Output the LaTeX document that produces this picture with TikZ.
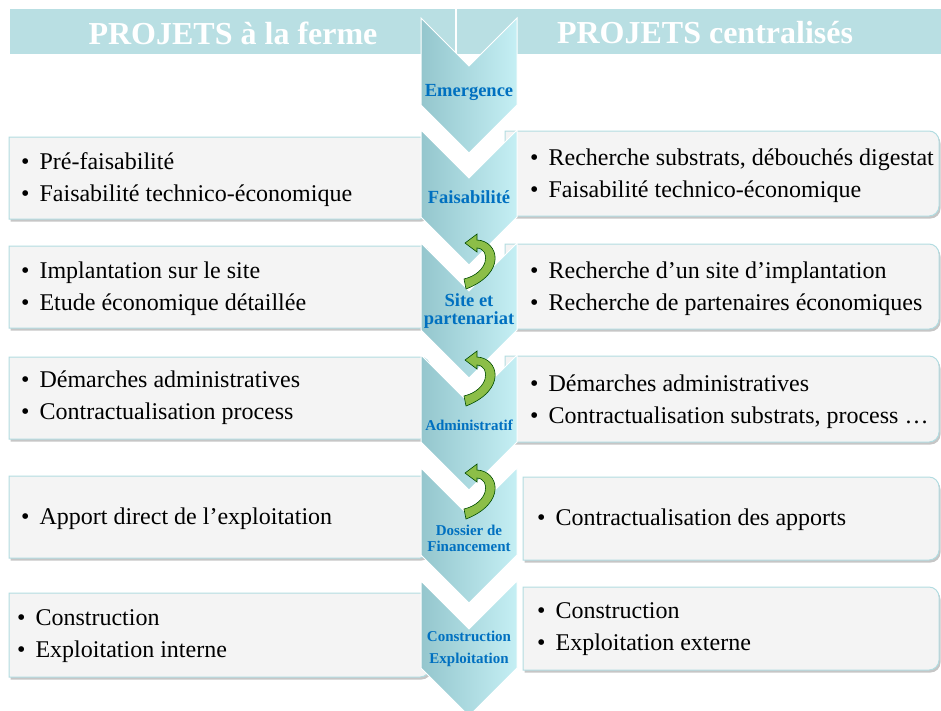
\documentclass[tikz,border=0pt]{standalone}
\usepackage{fontspec}
\setmainfont{Liberation Serif}
\usetikzlibrary{calc}
\usetikzlibrary{shadows}
\definecolor{bandteal}{RGB}{185,223,227}
\definecolor{chevdark}{RGB}{148,198,205}
\definecolor{chevlight}{RGB}{197,239,244}
\definecolor{labelblue}{RGB}{0,112,192}
\definecolor{boxgray}{RGB}{244,244,244}
\definecolor{boxline}{RGB}{178,220,225}
\definecolor{loopgreen}{RGB}{140,190,72}
\newcommand{\itm}[1]{\textbullet\hspace{10pt}#1}
\tikzset{
	header/.style={
		fill=bandteal,
	},
	headtext/.style={
		text=white,
		font=\bfseries\fontsize{32}{35}\selectfont
	},
	box/.style={
		fill=boxgray,
		draw=boxline,
		line width=1pt,
		drop shadow={shadow xshift=1.5pt, shadow yshift=-2.5pt, opacity=0.45}
	},
	bullets/.style={
		align=left,
		anchor=west,
		inner sep=0pt,
		font=\fontsize{24}{32}\selectfont
	},
	chevron/.style={
		left color=chevdark,
		right color=chevlight,
		draw=white,
		line width=1pt
	},
	stage/.style={
		text=labelblue,
		align=center,
		inner sep=0pt,
		font=\bfseries\fontsize{18.5}{18}\selectfont
	},
	smallstage/.style={
		stage,
		font=\bfseries\fontsize{15}{16}\selectfont
	},
	loopback/.style={
		fill=loopgreen,
		draw=black!70!green,
		line width=0.6pt
	},
}

\begin{document}
\begin{tikzpicture}[x=1pt, y=-1pt]
		\useasboundingbox (0,0) rectangle (941,710);

		% en-tete
		\path[header] 			(10,9) rectangle (941,54);
		\draw[white, line width=1.5pt] 	(456,9) -- (456,54);
		\node[headtext] 		(ferme) at (233,33) {PROJETS à la ferme};
		\node[headtext] 		(centr) at (705,33) {PROJETS centralisés};

%*********

		\foreach \t/\b in {137/219, 246/328, 357/439, 476/558, 593/677}
			\path[box] (9,\b) -- (9,\t) [rounded corners=10pt] -- (430,\t) -- (430,\b) [sharp corners] -- cycle;

		\foreach \t/\b/\l in {131/216/505, 244/329/505, 356/442/505, 477/560/523, 587/670/523}
			\path[box] (\l,\b) -- (\l,\t) [rounded corners=10pt] -- (939,\t) -- (939,\b) [sharp corners] -- cycle;

		\node[bullets] 	(l1) at (21,180) {\itm{Pré-faisabilité}\\\itm{Faisabilité technico-économique}};
		\node[bullets] 	(l2) at (21,289) {\itm{Implantation sur le site}\\\itm{Etude économique détaillée}};
		\node[bullets] 	(l3) at (21,398) {\itm{Démarches administratives}\\\itm{Contractualisation process}};
		\node[bullets] 	(l4) at (21,519) {\itm{Apport direct de l’exploitation}};
		\node[bullets] 	(l5) at (17,636) {\itm{Construction}\\\itm{Exploitation interne}};

		\node[bullets] 	(r1) at (530,176) {\itm{Recherche substrats, débouchés digestat}\\\itm{Faisabilité technico-économique}};
		\node[bullets] 	(r2) at (530,289) {\itm{Recherche d’un site d’implantation}\\\itm{Recherche de partenaires économiques}};
		\node[bullets] 	(r3) at (530,402) {\itm{Démarches administratives}\\\itm{Contractualisation substrats, process …}};
		\node[bullets] 	(r4) at (537,520) {\itm{Contractualisation des apports}};
		\node[bullets] 	(r5) at (537,629) {\itm{Construction}\\\itm{Exploitation externe}};

%*********

		\foreach \t in {18, 130, 243, 355, 468, 581}
			\path[chevron] (421,\t) -- (469,\t+48) -- (517,\t) -- (517,\t+87) -- (469,\t+135) -- (421,\t+87) -- cycle;

		\node[stage] 			(emer) at (469,92) {Emergence};
		\node[stage] 			(fais) at (469,197) {Faisabilité};
		\node[stage] 			(site) at (469,311) {Site et\\partenariat};
		\node[smallstage] 		(admin) at (469,425) {Administratif};
		\node[smallstage] 		(doss) at (469,538) {Dossier de\\Financement};
		\node[smallstage, font=\bfseries\fontsize{15}{22}\selectfont] 	(constr) at (469,649) {Construction\\Exploitation};

%*********

		\foreach \t in {243, 360, 473}{
			\begin{scope}[shift={(465,\t)}]
				\path[loopback] (0,0) -- (12,-9) -- (12,-3) .. controls (34,-2) and (42,30) .. (1,46) -- (-1,36) .. controls (24,30) and (26,6) .. (12,5) -- (12,9) -- cycle;
			\end{scope}
		}

	\end{tikzpicture}
\end{document}
